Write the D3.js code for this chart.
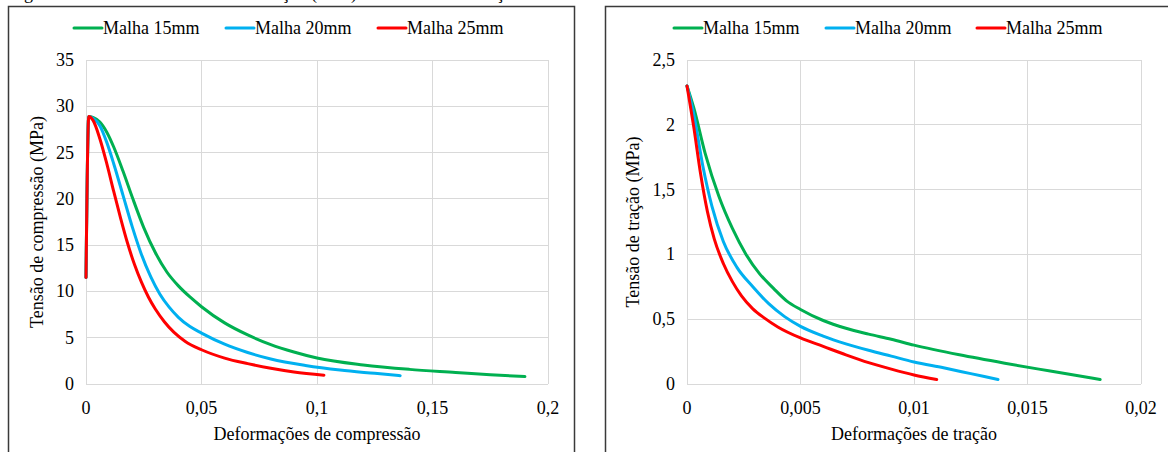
<!DOCTYPE html>
<html lang="pt">
<head>
<meta charset="utf-8" />
<title>Curvas tensão-deformação</title>
<script src="https://d3js.org/d3.v7.min.js"></script>
<style>
    body, html {
        margin: 0;
        padding: 0;
        background: #fff;
        overflow: hidden;
    }
    .grid line {
        stroke: #d9d9d9;
        stroke-width: 1;
        shape-rendering: crispEdges;
    }
</style>
</head>
<body>
<div id="chart"></div>
<script>
    // series names and colours
    const seriesNames = ["Malha 15mm", "Malha 20mm", "Malha 25mm"];
    const seriesColors = ["#00b050", "#00b0f0", "#ff0000"];

    // compressão
    const compX15 = [0, 0.0012, 0.003, 0.006, 0.009, 0.012, 0.016, 0.020, 0.025, 0.030, 0.035, 0.040, 0.045, 0.050, 0.060, 0.070, 0.080, 0.090, 0.100, 0.120, 0.140, 0.160, 0.175, 0.190];
    const compY15 = [11.5, 28.9, 28.8, 28.3, 27.2, 25.6, 23.0, 20.2, 16.9, 14.2, 12.1, 10.6, 9.4, 8.35, 6.6, 5.3, 4.25, 3.45, 2.8, 2.05, 1.58, 1.25, 1.0, 0.8];
    const compX20 = [0, 0.0012, 0.003, 0.006, 0.009, 0.012, 0.016, 0.020, 0.024, 0.028, 0.032, 0.036, 0.040, 0.045, 0.050, 0.060, 0.070, 0.080, 0.095, 0.110, 0.125, 0.136];
    const compY20 = [11.5, 28.9, 28.7, 27.9, 26.1, 23.8, 20.4, 17.0, 14.0, 11.6, 9.7, 8.3, 7.2, 6.2, 5.5, 4.3, 3.4, 2.7, 2.0, 1.5, 1.15, 0.9];
    const compX25 = [0, 0.0012, 0.003, 0.006, 0.009, 0.012, 0.015, 0.018, 0.021, 0.024, 0.027, 0.030, 0.034, 0.038, 0.043, 0.050, 0.060, 0.070, 0.080, 0.090, 0.103];
    const compY25 = [11.5, 28.9, 28.5, 26.5, 23.8, 20.8, 17.9, 15.2, 12.9, 11.0, 9.4, 8.1, 6.7, 5.6, 4.6, 3.7, 2.8, 2.2, 1.7, 1.3, 0.95];

    // tração
    const tracX15 = [0, 0.0003, 0.0008, 0.0014, 0.0020, 0.0026, 0.0032, 0.0038, 0.0044, 0.0050, 0.0060, 0.0070, 0.0080, 0.0090, 0.0100, 0.0120, 0.0140, 0.0160, 0.0182];
    const tracY15 = [2.3, 2.13, 1.78, 1.45, 1.2, 1.0, 0.85, 0.74, 0.64, 0.575, 0.49, 0.43, 0.385, 0.345, 0.30, 0.225, 0.16, 0.1, 0.035];
    const tracX20 = [0, 0.0003, 0.0007, 0.0011, 0.0016, 0.0022, 0.0029, 0.0036, 0.0043, 0.0050, 0.0060, 0.0070, 0.0080, 0.0090, 0.0100, 0.0113, 0.0125, 0.0137];
    const tracY20 = [2.3, 2.08, 1.68, 1.37, 1.1, 0.9, 0.75, 0.62, 0.52, 0.445, 0.37, 0.31, 0.26, 0.215, 0.17, 0.125, 0.08, 0.035];
    const tracX25 = [0, 0.0003, 0.0006, 0.0009, 0.0012, 0.0016, 0.0020, 0.0024, 0.0029, 0.0034, 0.0040, 0.0050, 0.0060, 0.0070, 0.0080, 0.0090, 0.0100, 0.0110];
    const tracY25 = [2.3, 1.98, 1.62, 1.33, 1.12, 0.93, 0.79, 0.68, 0.58, 0.51, 0.44, 0.355, 0.29, 0.225, 0.165, 0.115, 0.07, 0.035];

    // ticks
    const compXTicks = [0, 0.05, 0.1, 0.15, 0.2];
    const compXLabels = ["0", "0,05", "0,1", "0,15", "0,2"];
    const compYTicks = [0, 5, 10, 15, 20, 25, 30, 35];
    const compYLabels = ["0", "5", "10", "15", "20", "25", "30", "35"];
    const tracXTicks = [0, 0.005, 0.01, 0.015, 0.02];
    const tracXLabels = ["0", "0,005", "0,01", "0,015", "0,02"];
    const tracYTicks = [0, 0.5, 1, 1.5, 2, 2.5];
    const tracYLabels = ["0", "0,5", "1", "1,5", "2", "2,5"];

    const W = 1168, H = 452;
    const FONT = "'Liberation Serif', 'Times New Roman', 'DejaVu Serif', serif";
    const FS = 18;

    const svg = d3.select("#chart").append("svg")
        .attr("width", W)
        .attr("height", H)
        .attr("font-family", FONT);

    function txt(sel) {
        return sel.append("text")
            .attr("font-family", FONT)
            .attr("font-size", FS)
            .attr("fill", "#000");
    }

    // caption line cut off at the top of the picture
    txt(svg)
        .attr("x", 9)
        .attr("y", -1)
        .text("Figura 4.7 – Curvas tensão × deformação (MPa) do concreto em tração");

    function zip(xs, ys) {
        return xs.map((x, i) => ({ x: x, y: ys[i] }));
    }

    function drawPanel(p) {
        const g = svg.append("g");

        // outer frame of the panel
        g.append("rect")
            .attr("x", p.frame[0] + 0.5)
            .attr("y", 6.5)
            .attr("width", p.frame[1] - p.frame[0])
            .attr("height", H + 20)
            .attr("fill", "none")
            .attr("stroke", "#3a3a3a")
            .attr("stroke-width", 1.5);

        const x = d3.scaleLinear().domain(p.xDomain).range([p.left, p.right]);
        const y = d3.scaleLinear().domain(p.yDomain).range([384, 60]);

        const grid = g.append("g").attr("class", "grid");
        grid.selectAll(".gx").data(p.xTicks).enter().append("line")
            .attr("x1", d => x(d)).attr("x2", d => x(d))
            .attr("y1", y.range()[0]).attr("y2", y.range()[1]);
        grid.selectAll(".gy").data(p.yTicks).enter().append("line")
            .attr("x1", x.range()[0]).attr("x2", x.range()[1])
            .attr("y1", d => y(d)).attr("y2", d => y(d));

        p.xTicks.forEach((d, i) => {
            txt(g).attr("x", x(d)).attr("y", 414)
                .attr("text-anchor", "middle")
                .text(p.xLabels[i]);
        });

        p.yTicks.forEach((d, i) => {
            txt(g).attr("x", p.left - 12).attr("y", y(d) + 6)
                .attr("text-anchor", "end")
                .text(p.yLabels[i]);
        });

        txt(g)
            .attr("x", (p.left + p.right) / 2)
            .attr("y", 440)
            .attr("text-anchor", "middle")
            .text(p.xTitle);

        txt(g)
            .attr("transform", "translate(" + p.yTitleX + "," + (y.range()[0] + y.range()[1]) / 2 + ") rotate(-90)")
            .attr("text-anchor", "middle")
            .text(p.yTitle);

        const line = d3.line()
            .x(d => x(d.x))
            .y(d => y(d.y))
            .curve(d3.curveMonotoneX);

        p.series.forEach((s, i) => {
            g.append("path")
                .datum(s)
                .attr("fill", "none")
                .attr("stroke", seriesColors[i])
                .attr("stroke-width", 3)
                .attr("stroke-linecap", "round")
                .attr("stroke-linejoin", "round")
                .attr("d", line);
        });

        // legend
        seriesNames.forEach((name, i) => {
            const lx = p.legendX[i];
            g.append("line")
                .attr("x1", lx).attr("x2", lx + 28)
                .attr("y1", 28).attr("y2", 28)
                .attr("stroke", seriesColors[i])
                .attr("stroke-width", 3)
                .attr("stroke-linecap", "round");
            txt(g)
                .attr("x", lx + 29)
                .attr("y", 34)
                .text(name);
        });
    }

    drawPanel({
        frame: [8, 574],
        left: 86, right: 548,
        xDomain: [0, 0.2], yDomain: [0, 35],
        xTicks: compXTicks, xLabels: compXLabels,
        yTicks: compYTicks, yLabels: compYLabels,
        xTitle: "Deformações de compressão",
        yTitle: "Tensão de compressão (MPa)",
        yTitleX: 43,
        legendX: [74, 226, 378],
        series: [zip(compX15, compY15), zip(compX20, compY20), zip(compX25, compY25)]
    });

    drawPanel({
        frame: [605, 1200],
        left: 687, right: 1141,
        xDomain: [0, 0.02], yDomain: [0, 2.5],
        xTicks: tracXTicks, xLabels: tracXLabels,
        yTicks: tracYTicks, yLabels: tracYLabels,
        xTitle: "Deformações de tração",
        yTitle: "Tensão de tração (MPa)",
        yTitleX: 639,
        legendX: [674, 826, 977],
        series: [zip(tracX15, tracY15), zip(tracX20, tracY20), zip(tracX25, tracY25)]
    });
</script>
</body>
</html>
